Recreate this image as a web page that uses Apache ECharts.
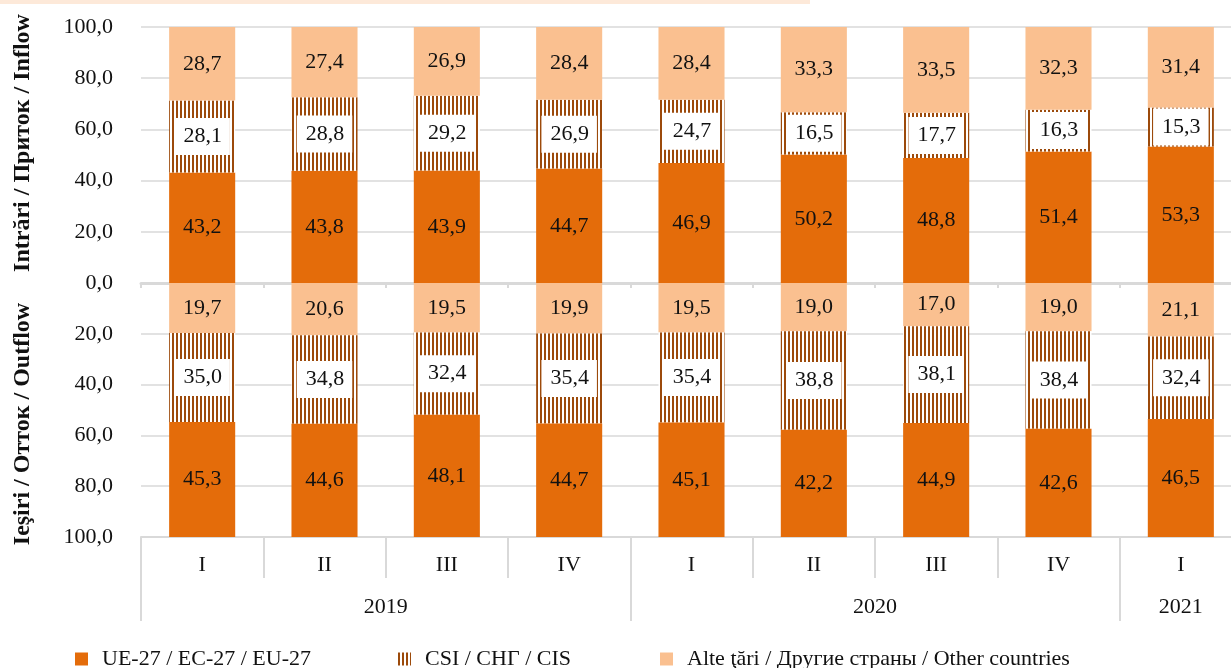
<!DOCTYPE html>
<html>
<head>
<meta charset="utf-8">
<script src="https://cdn.jsdelivr.net/npm/echarts@6/dist/echarts.min.js"></script>
<style>
html,body{margin:0;padding:0;background:#fff;}
#c{width:1231px;height:668px;}
</style>
</head>
<body>
<div id="c"></div>
<script>
// ---- data ----
var categories = ['2019-I','2019-II','2019-III','2019-IV','2020-I','2020-II','2020-III','2020-IV','2021-I'];
var quarterLabels = ['I','II','III','IV','I','II','III','IV','I'];
var years = ['2019','2020','2021'];
var yearQuarterCounts = [4, 4, 1];
var yTicks = [0, 20, 40, 60, 80, 100];

var seriesNames = ['UE-27 / EC-27 / EU-27', 'CSI / СНГ / CIS', 'Alte ţări / Другие страны / Other countries'];

var inflowEU    = [43.2, 43.8, 43.9, 44.7, 46.9, 50.2, 48.8, 51.4, 53.3];
var inflowCIS   = [28.1, 28.8, 29.2, 26.9, 24.7, 16.5, 17.7, 16.3, 15.3];
var inflowOther = [28.7, 27.4, 26.9, 28.4, 28.4, 33.3, 33.5, 32.3, 31.4];

var outflowOther = [19.7, 20.6, 19.5, 19.9, 19.5, 19.0, 17.0, 19.0, 21.1];
var outflowCIS   = [35.0, 34.8, 32.4, 35.4, 35.4, 38.8, 38.1, 38.4, 32.4];
var outflowEU    = [45.3, 44.6, 48.1, 44.7, 45.1, 42.2, 44.9, 42.6, 46.5];

// ---- styles ----
var FONT = '"Liberation Serif", "DejaVu Serif", serif';
var TXT = '#111';
var C_EU = '#E46C0A';
var C_OTHER = '#FAC090';
var C_STRIPE = '#9C4A0B';
var GRIDC = '#d9d9d9';

function fmt(v){ return Number(v).toFixed(1).replace('.', ','); }

// stripe pattern for CIS
var pat = document.createElement('canvas');
pat.width = 4; pat.height = 4;
(function(){
  var g = pat.getContext('2d');
  g.fillStyle = '#fff'; g.fillRect(0, 0, 4, 4);
  g.fillStyle = C_STRIPE; g.fillRect(0, 0, 2, 4);
})();
var cisFill = { image: pat, repeat: 'repeat' };

// year label positions from group counts
var yearPos = {};
var yearStarts = {};
(function(){
  var s = 0;
  for (var i = 0; i < years.length; i++) {
    yearStarts[s] = true;
    yearPos[(s + yearQuarterCounts[i] / 2).toFixed(2)] = years[i];
    s += yearQuarterCounts[i];
  }
  yearStarts[s] = true;
})();

var baseLabel = {
  show: true,
  position: 'inside',
  color: TXT,
  fontFamily: FONT,
  fontSize: 22,
  formatter: function(p){ return fmt(p.value); }
};
var cisLabel = Object.assign({}, baseLabel, {
  backgroundColor: '#fff',
  padding: [8, 8, 8, 9],
  lineHeight: 21
});

function bar(name, data, grid, stack, color, isCis) {
  return {
    name: name,
    type: 'bar',
    xAxisIndex: grid === 0 ? 0 : 1,
    yAxisIndex: grid,
    stack: stack,
    barWidth: '54%',
    data: data,
    itemStyle: { color: isCis ? cisFill : color },
    label: isCis ? cisLabel : baseLabel,
    emphasis: { disabled: true },
    silent: true
  };
}

var yLabel = {
  fontFamily: FONT, fontSize: 22, color: TXT, margin: 28,
  formatter: function(v){ return fmt(v); }
};
var yNameTop = { fontFamily: FONT, fontSize: 24, fontWeight: 'bold', color: TXT, padding: [0, 0, 0, 24] };
var yNameBottom = { fontFamily: FONT, fontSize: 24, fontWeight: 'bold', color: TXT, padding: [0, 28, 0, 0] };

var legendBase = {
  top: 643, itemWidth: 13, itemHeight: 13, icon: 'rect',
  textStyle: { fontFamily: FONT, fontSize: 22, color: TXT, padding: [0, 0, 0, 9] },
  selectedMode: false
};

var noZeroLine = function(extra){ return Object.assign({ onZero: false }, extra); };

var option = {
  animation: false,
  backgroundColor: '#fff',
  graphic: [{ type: 'rect', left: 0, top: 0, shape: { width: 810, height: 4 }, style: { fill: '#FDE9D9' }, silent: true }],
  legend: [
    Object.assign({}, legendBase, { left: 70, data: [seriesNames[0]] }),
    Object.assign({}, legendBase, { left: 393, data: [seriesNames[1]] }),
    Object.assign({}, legendBase, { left: 655, data: [seriesNames[2]] })
  ],
  grid: [
    { left: 141, right: -11, top: 27, height: 256, outerBoundsMode: 'none', containLabel: false },
    { left: 141, right: -11, top: 283, height: 254, outerBoundsMode: 'none', containLabel: false }
  ],
  xAxis: [
    {
      type: 'category', gridIndex: 0, data: categories, position: 'bottom',
      axisLine: noZeroLine({ show: true, lineStyle: { color: GRIDC, width: 3 } }),
      axisTick: { show: true, length: 5, lineStyle: { color: GRIDC, width: 2 } },
      axisLabel: { show: false }
    },
    {
      type: 'category', gridIndex: 1, data: categories, position: 'bottom',
      axisLine: noZeroLine({ show: true, lineStyle: { color: GRIDC, width: 2 } }),
      axisTick: { show: true, length: 41, lineStyle: { color: GRIDC, width: 2 } },
      axisLabel: {
        fontFamily: FONT, fontSize: 22, color: TXT, margin: 17, interval: 0,
        formatter: function(v, i){ return quarterLabels[i]; }
      }
    },
    {
      type: 'category', gridIndex: 1, data: categories, position: 'bottom', offset: 41,
      axisLine: noZeroLine({ show: false }),
      axisTick: { show: true, length: 43, lineStyle: { color: GRIDC, width: 2 },
        interval: function(i){ return !!yearStarts[i]; } },
      axisLabel: { show: false }
    },
    {
      type: 'value', gridIndex: 1, min: 0, max: categories.length, interval: 0.5, position: 'bottom', offset: 41,
      axisLine: noZeroLine({ show: false }), axisTick: { show: false }, splitLine: { show: false },
      axisLabel: {
        fontFamily: FONT, fontSize: 22, color: TXT, margin: 18, showMinLabel: true, showMaxLabel: true,
        formatter: function(v){ return yearPos[Number(v).toFixed(2)] || ''; }
      }
    }
  ],
  yAxis: [
    {
      type: 'value', gridIndex: 0, min: yTicks[0], max: yTicks[yTicks.length - 1], interval: 20,
      axisLine: { show: false }, axisTick: { show: false },
      splitLine: { lineStyle: { color: GRIDC, width: 1.5 } },
      axisLabel: yLabel,
      name: 'Intrări / Приток / Inflow', nameLocation: 'middle', nameGap: 106, nameRotate: 90,
      nameTextStyle: yNameTop
    },
    {
      type: 'value', gridIndex: 1, inverse: true, min: yTicks[0], max: yTicks[yTicks.length - 1], interval: 20,
      axisLine: { show: false }, axisTick: { show: false },
      splitLine: { lineStyle: { color: GRIDC, width: 1.5 } },
      axisLabel: Object.assign({}, yLabel, { formatter: function(v){ return v === 0 ? '' : fmt(v); } }),
      name: 'Ieşiri / Отток / Outflow', nameLocation: 'middle', nameGap: 106, nameRotate: 90,
      nameTextStyle: yNameBottom
    }
  ],
  series: [
    bar(seriesNames[0], inflowEU, 0, 'in', C_EU, false),
    bar(seriesNames[1], inflowCIS, 0, 'in', null, true),
    bar(seriesNames[2], inflowOther, 0, 'in', C_OTHER, false),
    bar(seriesNames[2], outflowOther, 1, 'out', C_OTHER, false),
    bar(seriesNames[1], outflowCIS, 1, 'out', null, true),
    bar(seriesNames[0], outflowEU, 1, 'out', C_EU, false)
  ]
};

var chart = echarts.init(document.getElementById('c'), null, { renderer: 'canvas' });
chart.setOption(option);
</script>
</body>
</html>
